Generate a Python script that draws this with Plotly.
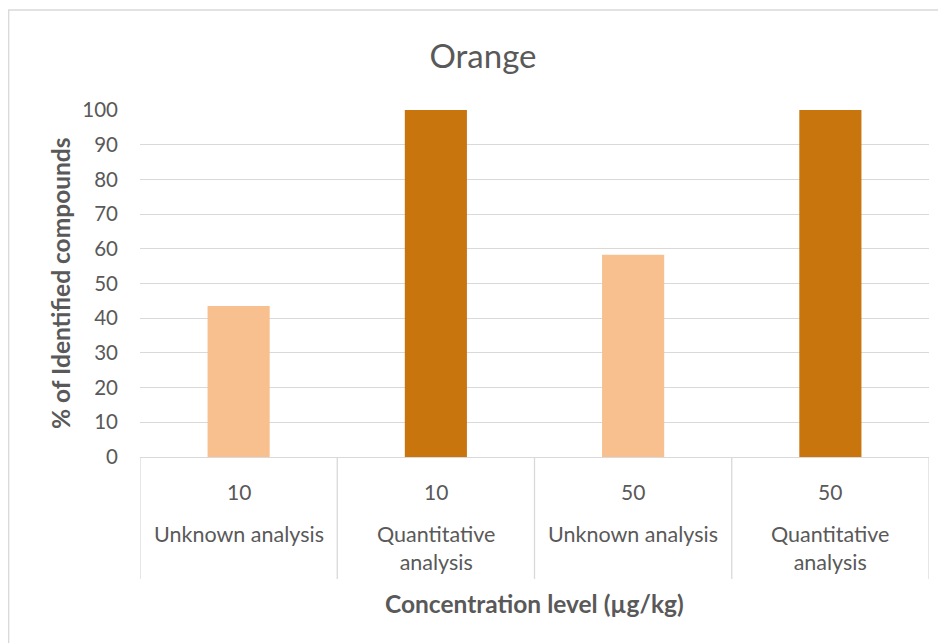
import plotly.graph_objects as go

concentration = ["10", "10", "50", "50"]
analysis = ["Unknown analysis", "Quantitative<br>analysis", "Unknown analysis", "Quantitative<br>analysis"]
values = [43.5, 100, 58.3, 100]
colors = ["#F8C08E", "#C9750E", "#F8C08E", "#C9750E"]
yticks = list(range(0, 101, 10))

FONT = "Lato"
GREY = "#595959"

xpos = list(range(len(values)))

fig = go.Figure(go.Bar(x=xpos, y=values, marker=dict(color=colors, line=dict(width=0)),
                       width=0.315, showlegend=False))

W, H = 946, 643
# page renders with an 8px offset; coordinates below are in figure pixels
L, R, T, B = 132, 25, 102, 194
pw = W - L - R
ph = H - T - B
axis_y = T + ph  # pixel of y=0


def py(pix):
    return (axis_y - pix) / ph


def px(pix):
    return (pix - L) / pw


shapes = []
for i in range(len(values) + 1):
    shapes.append(dict(type="line", xref="x", yref="paper", x0=i - 0.5, x1=i - 0.5,
                       y0=0, y1=py(axis_y + 122), line=dict(color="#D9D9D9", width=1.3)))
shapes.append(dict(type="rect", xref="paper", yref="paper",
                   x0=px(0.7), x1=px(980), y0=py(700), y1=py(2),
                   line=dict(color="#D9D9D9", width=1.3)))

annotations = []
for i, (c, a) in enumerate(zip(concentration, analysis)):
    annotations.append(dict(x=i, y=py(axis_y + 34), xref="x", yref="paper", text=c,
                            showarrow=False, font=dict(family=FONT, size=21, color=GREY),
                            yanchor="middle"))
    annotations.append(dict(x=i, y=py(axis_y + 62), xref="x", yref="paper", text=a,
                            showarrow=False, font=dict(family=FONT, size=21.5, color=GREY),
                            yanchor="top"))
annotations.append(dict(x=0.5, y=py(595), xref="paper", yref="paper",
                        text="<b>Concentration level (µg/kg)</b>", showarrow=False,
                        font=dict(family=FONT, size=24.5, color=GREY), yanchor="middle"))
annotations.append(dict(x=px(52), y=py(275), xref="paper", yref="paper", textangle=-90,
                        text="<b>% of Identified compounds</b>", showarrow=False,
                        font=dict(family=FONT, size=24.5, color=GREY),
                        xanchor="center", yanchor="middle"))

fig.update_layout(
    width=W, height=H,
    margin=dict(l=L, r=R, t=T, b=B),
    paper_bgcolor="white", plot_bgcolor="white",
    title=dict(text="Orange", x=475 / W, xanchor="center", y=1 - 48 / H, yanchor="middle",
               font=dict(family=FONT, size=33, color=GREY)),
    xaxis=dict(range=[-0.5, 3.5], showticklabels=False, showgrid=False, zeroline=False,
               showline=False, ticks="", fixedrange=True),
    yaxis=dict(range=[0, 100], tickvals=yticks, showgrid=True, gridcolor="#D9D9D9", gridwidth=1.3,
               zeroline=True, zerolinecolor="#D9D9D9", zerolinewidth=1.3, showline=False,
               ticks="", ticklabelstandoff=21,
               tickfont=dict(family=FONT, size=20.5, color=GREY)),
    shapes=shapes, annotations=annotations,
)

fig.write_html("out.html")
